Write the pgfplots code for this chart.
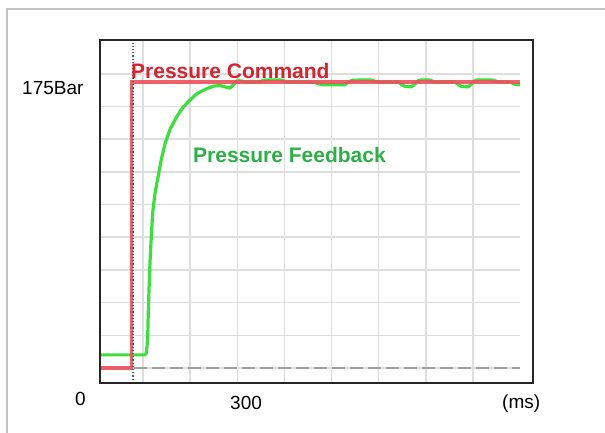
\documentclass[border=0pt]{standalone}
\usepackage{pgfplots}
\pgfplotsset{compat=1.18}
\usepackage{fontspec}
\setmainfont{Liberation Sans}

\definecolor{cmdline}{RGB}{236,80,90}
\definecolor{cmdtext}{RGB}{212,36,48}
\definecolor{fbline}{RGB}{62,222,62}
\definecolor{fbtext}{RGB}{44,176,70}
\definecolor{gridc}{RGB}{222,222,222}
\definecolor{framec}{RGB}{195,195,195}

\begin{document}
\begin{tikzpicture}
% outer frame of the screenshot (only top and left edges are visible)
\draw[framec, line width=2pt] (-93pt,-60pt) -- (-93pt,374pt) -- (520pt,374pt);

\begin{axis}[
    scale only axis,
    width=420pt, height=343pt,
    xmin=8.7, xmax=900,
    ymin=-9.2, ymax=200.7,
    axis line style={draw=none},
    xtick={100,200,...,800},
    ytick={0,20,...,180},
    xticklabels={}, yticklabels={},
    major tick length=0pt,
    grid=major,
    major grid style={gridc, line width=1.5pt},
    clip=true,
]
% zero reference
\addplot[gray!75, line width=1.6pt, dash pattern=on 13pt off 5pt]
    coordinates {(81,0) (900,0)};
% pressure feedback
\addplot[fbline, line width=3.2pt, line join=round]
    coordinates {
    (8.7,8.0) (104,8.0) (106.5,8.8) (108.5,13) (110,20) (110.8,30)
    (112.5,46) (115,66) (118,83) (121,96.5) (126,108) (132,117)
    (139,128) (147,137.5) (158,146.5) (172,154) (185,159.5) (200,164)
    (215,168) (236,171) (250,172.5) (263,172.8) (274,172) (285,171.3)
    (292,173.5) (300,175.8) (310,175.6) (320,175) (345,175) (354,175.8)
    (363,176.3) (391,176.3) (400,175.6) (410,175) (440,175) (465,174.7)
    (474,173.8) (482,173.3) (528,173.3) (536,175) (544,176.1) (582,176.3)
    (592,175.5) (600,175) (642,175) (648,173.6) (656,172.3) (670,172.1)
    (677,173.8) (683,175.6) (690,176.3) (707,176.3) (715,175.5) (722,175)
    (762,175) (769,173.4) (776,172.2) (791,172.1) (797,173.8) (803,175.6)
    (810,176.3) (840,176.3) (848,175.6) (856,175) (880,175) (886,174)
    (892,173.4) (900,173.3)
    };
% pressure command
\addplot[cmdline, line width=3.2pt, opacity=0.9]
    coordinates {(8.7,0) (75,0) (75,175) (900,175)};
% trigger marker
\addplot[gray!70!black, line width=1.3pt, dash pattern=on 1.2pt off 2pt]
    coordinates {(79,-9.2) (79,200.7)};
\end{axis}

% axis frame (extends a little past the plotted area on the right)
\draw[black!85, line width=1.2pt] (0,0) rectangle (433pt,343pt);

\node[anchor=base west, inner sep=0pt, font=\fontsize{19}{22}\selectfont] at (-78pt,289pt) {175Bar};
\node[anchor=base west, inner sep=0pt, font=\fontsize{19}{22}\selectfont] at (-25pt,-22pt) {0};
\node[anchor=base west, inner sep=0pt, font=\fontsize{19}{22}\selectfont] at (130pt,-26pt) {300};
\node[anchor=base west, inner sep=0pt, font=\fontsize{19}{22}\selectfont] at (402pt,-25pt) {(ms)};

\node[anchor=base west, inner sep=0pt, text=cmdtext, font=\fontsize{21}{24}\selectfont\bfseries] at (31pt,305pt) {Pressure Command};
\node[anchor=base west, inner sep=0pt, text=fbtext, font=\fontsize{21}{24}\selectfont\bfseries] at (93pt,221pt) {Pressure Feedback};

\pgfresetboundingbox
\path[use as bounding box] (-100pt,-49pt) rectangle (505pt,383pt);
\end{tikzpicture}
\end{document}
